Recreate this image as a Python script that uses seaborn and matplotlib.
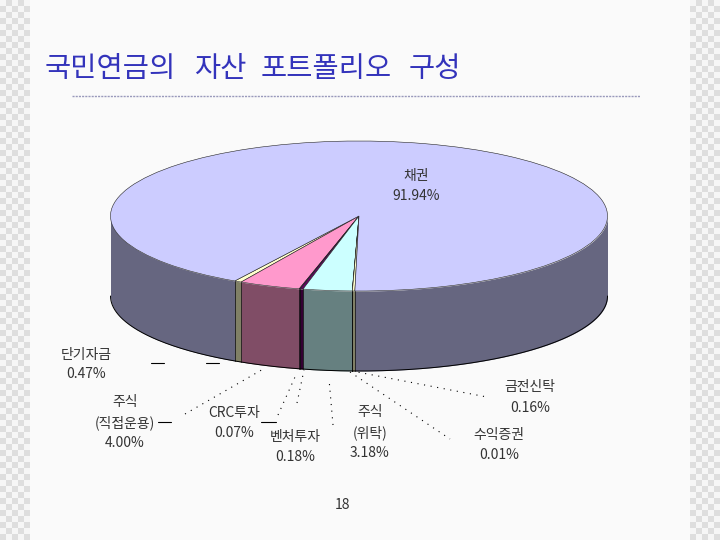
import numpy as np
import matplotlib
matplotlib.use("Agg")
import matplotlib.pyplot as plt
import seaborn as sns

categories = ["단기자금", "주식(직접운용)", "CRC투자", "벤처투자", "주식(위탁)", "수익증권", "금전신탁", "채권"]
values = [0.47, 4.00, 0.07, 0.18, 3.18, 0.01, 0.16, 91.94]
top_colors = ["#FFFFCC", "#FF99CC", "#660066", "#660066", "#CCFFFF", "#FFFFCC", "#FFFFCC", "#CCCCFF"]
side_colors = ["#808066", "#804D66", "#330033", "#330033", "#668080", "#808066", "#808066", "#666680"]

title_words = ["국민연금의", "자산", "포트폴리오", "구성"]
page_number = "18"

sns.set_theme(style="white")
plt.rcParams["font.family"] = ["Noto Sans CJK KR", "DejaVu Sans"]

W, H = 720, 540
fig = plt.figure(figsize=(7.2, 5.4), dpi=100, facecolor="#FAFAFA")

# checker margin of the slide
bg = fig.add_axes([0, 0, 1, 1])
cell = 6
checker = np.indices((H // cell, W // cell)).sum(axis=0) % 2
checker[:, 115:] = 1 - checker[:, 115:]
sns.heatmap(checker, ax=bg, cbar=False, cmap=["#F6F6F6", "#DEDEDE"], xticklabels=False, yticklabels=False)
bg.add_patch(plt.Rectangle((30 / cell, 0), 660 / cell, H / cell, color="#FAFAFA", lw=0))

# overlay in pixel coordinates
ov = fig.add_axes([0, 0, 1, 1], zorder=3)
ov.set_xlim(0, W)
ov.set_ylim(H, 0)
ov.axis("off")

# pie axes squashed to the ellipse
cx, cy, rx, ry, depth = 359, 216, 248.5, 75, 80
ax = fig.add_axes([(cx - rx) / W, 1 - (cy + ry) / H, 2 * rx / W, 2 * ry / H], zorder=2)
start = 240
h = depth / ry
edges = start + np.cumsum([0] + values) * 3.6
for a0, a1, col in zip(edges[:-1], edges[1:], side_colors):
    lo = max(a0, 180)
    hi = min(a1, 360)
    if lo < hi:
        t = np.radians(np.linspace(lo, hi, 200))
        ax.fill_between(np.cos(t), np.sin(t), np.sin(t) - h, color=col, lw=0, clip_on=False)
    # part of the big slice that wraps around past 360
    if a1 > 540:
        t = np.radians(np.linspace(540, min(a1, 720), 200))
        ax.fill_between(np.cos(t), np.sin(t), np.sin(t) - h, color=col, lw=0, clip_on=False)

t = np.radians(np.linspace(180, 360, 400))
ax.plot(np.cos(t), np.sin(t) - h, color="black", lw=0.7, clip_on=False)
for a in edges[:-1]:
    if 180 <= a <= 360:
        r = np.radians(a)
        ax.plot([np.cos(r)] * 2, [np.sin(r), np.sin(r) - h], color="black", lw=0.5, clip_on=False)

wedges, _ = ax.pie(values, colors=top_colors, startangle=start, counterclock=True,
                   radius=1, wedgeprops={"edgecolor": "#222222", "linewidth": 0.4, "clip_on": False})
ax.set_aspect("auto")
ax.set_xlim(-1, 1)
ax.set_ylim(-1, 1)
ax.axis("off")
ax.patch.set_alpha(0)

# title and rule, words placed one by one for the wide spacing
for word, x in zip(title_words, [45, 194, 261, 409]):
    ov.text(x, 69, word, color="#3333BB", fontsize=20.5, va="center", ha="left")
ov.plot([72, 640], [96, 96], color="#9999BB", lw=1, ls=(0, (1.5, 0.8)))

# labels
txt = {"fontsize": 10, "color": "#333333", "ha": "center", "va": "center"}
label_text = [
    ("단기자금", 86, 355), ("0.47%", 86, 374),
    ("주식", 125, 402), ("(직접운용)", 125, 423), ("4.00%", 125, 443),
    ("CRC투자", 234, 413), ("0.07%", 234, 433),
    ("벤처투자", 295, 437), ("0.18%", 295, 457),
    ("주식", 370, 412), ("(위탁)", 370, 433), ("3.18%", 370, 453),
    ("수익증권", 499, 435), ("0.01%", 499, 455),
    ("금전신탁", 530, 387), ("0.16%", 530, 408),
    ("채권", 416, 176), ("91.94%", 416, 196),
]
for s, x, y in label_text:
    ov.text(x, y, s, **txt)
ov.text(343, 505, page_number, **txt)

# leader lines
for x0, x1, y in [(151, 164, 363), (206, 219, 363), (158, 171, 422), (261, 276, 422)]:
    ov.plot([x0, x1], [y, y], color="black", lw=0.8)
dotted = [
    ((185, 414), (265, 368)),
    ((278, 415), (295, 377)),
    ((297, 403), (304, 370)),
    ((333, 425), (329, 379)),
    ((350, 372), (450, 439)),
    ((352, 371), (487, 397)),
]
for (x0, y0), (x1, y1) in dotted:
    ov.plot([x0, x1], [y0, y1], color="black", lw=0.8, ls=(0, (1, 5)))

fig.savefig("out.png", dpi=100, facecolor=fig.get_facecolor())
